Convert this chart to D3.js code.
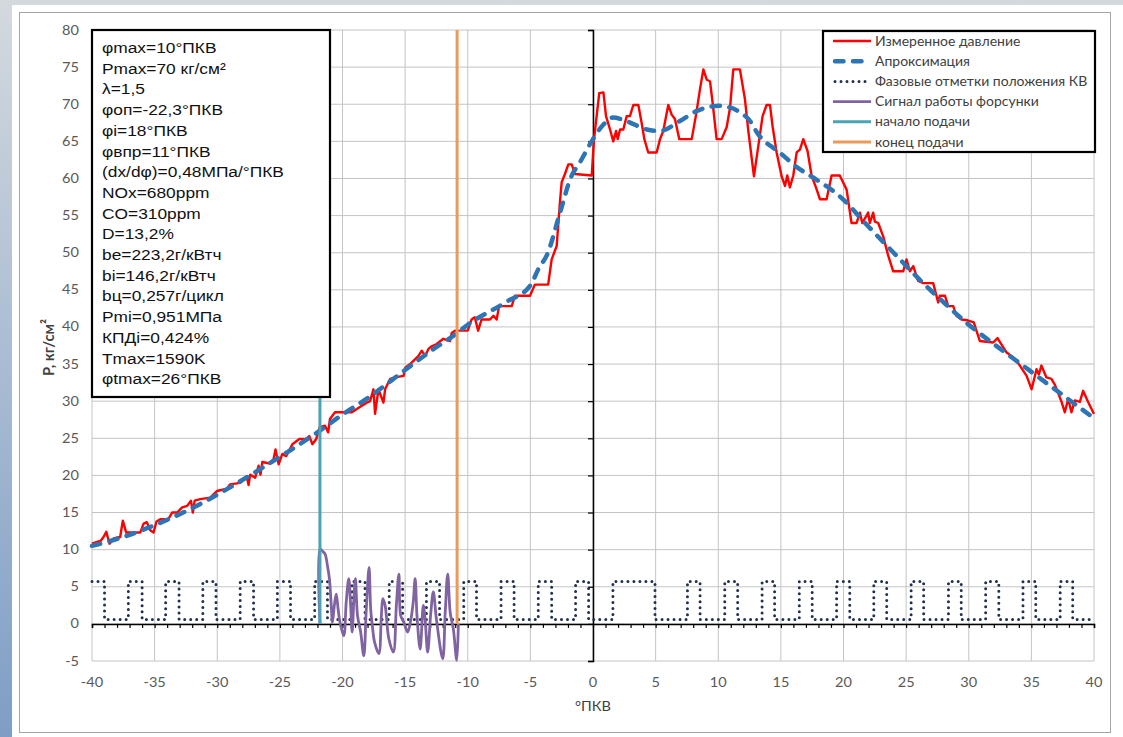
<!DOCTYPE html>
<html>
<head>
<meta charset="utf-8">
<script src="https://cdn.jsdelivr.net/npm/d3@7"></script>
<style>
  body { margin: 0; background: #ffffff; }
  svg { display: block; }
</style>
</head>
<body>
<script>
// values
const xTicks = [-40, -35, -30, -25, -20, -15, -10, -5, 0, 5, 10, 15, 20, 25, 30, 35, 40];
const yTicks = [-5, 0, 5, 10, 15, 20, 25, 30, 35, 40, 45, 50, 55, 60, 65, 70, 75, 80];

// measured pressure [angle, kg/cm2]
const measured = [
  [-40.0, 10.8], [-39.3, 11.2], [-39.08, 11.7], [-38.86, 12.4], [-38.6, 10.8], [-38.28, 11.5],
  [-37.75, 11.7], [-37.54, 13.9], [-37.27, 12.3], [-36.15, 12.3], [-35.88, 13.5], [-35.62, 13.7],
  [-35.35, 12.6], [-35.09, 12.3], [-34.85, 13.8], [-34.55, 14.1], [-33.9, 14.1], [-33.6, 15.0],
  [-33.2, 15.0], [-32.8, 15.7], [-32.4, 15.9], [-32.1, 16.6], [-31.95, 15.0], [-31.8, 16.6],
  [-31.36, 16.8], [-30.56, 17.0], [-30.03, 17.9], [-29.23, 18.2], [-28.97, 18.8], [-28.17, 19.0],
  [-27.9, 19.5], [-27.65, 19.9], [-27.5, 18.7], [-27.37, 20.1], [-26.97, 19.7], [-26.7, 21.3],
  [-26.55, 20.1], [-26.4, 21.8], [-25.8, 21.6], [-25.5, 22.2], [-25.35, 23.5], [-25.1, 21.5],
  [-24.8, 22.9], [-24.5, 22.6], [-24.0, 24.2], [-23.45, 24.9], [-22.9, 24.9], [-22.66, 25.3],
  [-22.4, 24.2], [-22.1, 24.9], [-21.82, 26.5], [-21.4, 26.7], [-21.14, 25.8], [-21.0, 27.6],
  [-20.6, 28.5], [-19.26, 28.5], [-18.46, 29.4], [-18.06, 29.8], [-17.8, 30.0], [-17.53, 31.6],
  [-17.4, 28.3], [-17.13, 31.6], [-16.73, 29.8], [-16.6, 31.6], [-16.2, 33.0], [-15.8, 33.2],
  [-15.13, 33.4], [-14.99, 34.5], [-14.6, 35.0], [-13.93, 36.1], [-13.67, 36.8], [-13.4, 36.1],
  [-13.15, 37.0], [-12.88, 37.4], [-12.48, 37.7], [-11.95, 38.4], [-11.42, 38.1], [-11.28, 39.2],
  [-11.02, 39.5], [-10.0, 39.5], [-9.7, 41.0], [-9.44, 41.3], [-9.17, 39.5], [-8.9, 41.0],
  [-8.22, 41.0], [-7.95, 41.5], [-7.69, 41.0], [-7.5, 42.8], [-6.49, 42.8], [-6.23, 44.2],
  [-5.03, 44.2], [-4.64, 45.7], [-3.58, 45.7], [-3.3, 49.1], [-2.9, 50.9], [-2.64, 56.8],
  [-2.5, 59.5], [-2.24, 60.6], [-1.97, 61.9], [-1.7, 61.9], [-1.44, 60.6], [-0.1, 60.4],
  [0.08, 65.3], [0.29, 68.4], [0.5, 71.5], [0.83, 71.6], [1.04, 68.4], [1.36, 66.6],
  [1.62, 65.0], [1.84, 66.4], [1.97, 65.3], [2.16, 66.6], [2.42, 66.6], [2.69, 68.4],
  [2.95, 68.4], [3.22, 69.9], [3.62, 69.9], [3.88, 67.5], [4.1, 65.3], [4.41, 63.5],
  [5.08, 63.5], [5.35, 65.3], [5.61, 66.4], [6.01, 69.9], [6.28, 68.6], [6.54, 68.0],
  [6.89, 65.3], [7.88, 65.3], [8.23, 68.6], [8.54, 72.0], [8.81, 74.7], [9.08, 73.3],
  [9.34, 73.1], [9.55, 70.2], [9.87, 65.3], [10.27, 65.3], [10.67, 66.9], [10.94, 69.5],
  [11.2, 74.7], [11.73, 74.7], [12.13, 70.7], [12.4, 66.4], [12.85, 60.3], [13.2, 64.4],
  [13.54, 68.4], [13.86, 69.9], [14.13, 69.9], [14.34, 67.0], [14.66, 63.5], [15.06, 60.3],
  [15.33, 59.0], [15.51, 60.4], [15.72, 58.8], [15.99, 60.4], [16.26, 63.5], [16.52, 63.9],
  [16.79, 65.3], [17.13, 63.7], [17.45, 60.4], [17.8, 58.8], [18.12, 57.2], [18.65, 57.2],
  [19.05, 60.4], [19.7, 60.4], [20.25, 58.5], [20.64, 54.0], [21.04, 54.0], [21.31, 55.4],
  [21.5, 54.0], [21.97, 55.4], [22.1, 54.0], [22.37, 55.4], [22.5, 54.2], [22.77, 54.0],
  [23.17, 52.2], [23.57, 49.6], [23.97, 47.5], [24.77, 47.5], [25.03, 49.1], [25.3, 47.5],
  [25.57, 48.2], [25.96, 46.2], [26.36, 45.9], [27.16, 45.9], [27.56, 43.3], [27.69, 44.2],
  [28.1, 44.2], [28.36, 42.8], [28.76, 42.8], [29.02, 41.5], [29.42, 41.0], [29.9, 40.9],
  [30.4, 40.6], [30.89, 38.1], [31.95, 37.9], [32.3, 38.5], [32.48, 38.0], [33.0, 36.6],
  [33.55, 35.9], [34.0, 35.0], [34.62, 33.4], [35.02, 31.6], [35.41, 34.3], [35.6, 33.6],
  [35.8, 34.8], [36.2, 33.2], [36.6, 33.0], [36.88, 32.2], [37.41, 29.9], [37.67, 28.5],
  [37.94, 30.3], [38.2, 28.5], [38.47, 30.1], [38.87, 29.9], [39.13, 31.4], [39.53, 29.9],
  [39.93, 28.5], [40.0, 28.3]
];

// approximation curve
const approx = [
  [-40, 10.5], [-37, 12.0], [-35, 13.3], [-32, 15.6], [-30, 17.4], [-27, 20.4], [-25, 22.5],
  [-22, 25.8], [-20, 28.2], [-18, 30.4], [-15, 34.2], [-13, 36.7], [-11, 39.0], [-10, 40.3],
  [-7, 43.3], [-5, 45.6], [-4.3, 48.0], [-3.7, 49.6], [-2.6, 55.6], [-1.8, 60.0], [-1, 62.3],
  [0, 65.3], [0.8, 67.2], [1.6, 68.2], [2.7, 67.7], [4.3, 66.6], [5.35, 66.4], [6.9, 67.7],
  [8.3, 69.1], [10.1, 69.8], [12.3, 68.2], [13.3, 65.7], [14.9, 63.5], [16.3, 61.5],
  [17.6, 60.1], [19.7, 57.6], [22, 53.5], [24, 50.0], [26, 46.5], [28, 43.3], [30, 40.3],
  [32, 37.7], [34, 35.2], [36, 32.7], [38, 30.2], [40, 27.7]
];

// crank angle marks: [rise, fall] of each pulse
const phasePulses = [
  [-40.0, -39.0], [-37.1, -36.0], [-34.12, -33.05], [-31.15, -30.1], [-28.17, -27.1],
  [-25.2, -24.15], [-22.22, -21.2], [-19.24, -18.2], [-16.27, -15.2], [-13.3, -12.25],
  [-10.32, -9.3], [-7.34, -6.3], [-4.37, -3.3], [-1.39, -0.35], [1.59, 4.95],
  [7.54, 8.55], [10.52, 11.55], [13.5, 14.5], [16.47, 17.5], [19.45, 20.5], [22.42, 23.45],
  [25.4, 26.4], [28.38, 29.4], [31.35, 32.4], [34.33, 35.35], [37.3, 38.3]
];
const phaseHigh = 5.7;
const phaseLow = 0.6;

// injector signal
const injector = [
  [-21.8, 0], [-21.79, 10.1], [-21.6, 9.8], [-21.39, 9.4], [-21.2, 7.8], [-21.04, 6.0],
  [-20.9, 2.5], [-20.8, 0.2], [-20.65, 2.5], [-20.5, 4.0], [-20.35, 2.0], [-20.2, 0.2],
  [-19.9, -1.6], [-19.7, 3.0], [-19.5, 6.1], [-19.35, 2.5], [-19.23, -1.1], [-19.1, 3.0],
  [-18.97, 6.1], [-18.8, 1.1], [-18.55, -1.1], [-18.3, -4.3], [-18.1, 2.0], [-17.88, 7.6],
  [-17.75, 2.0], [-17.6, -0.5], [-17.45, -2.4], [-17.1, -4.0], [-16.9, 1.0], [-16.78, 3.4],
  [-16.6, 2.5], [-16.3, -2.0], [-15.94, -3.8], [-15.7, 2.5], [-15.5, 6.7], [-15.35, 1.1],
  [-15.1, 0.2], [-14.8, -1.1], [-14.55, 0.5], [-14.35, 3.0], [-14.2, 6.1], [-14.05, 1.0],
  [-13.8, -3.4], [-13.55, 2.5], [-13.4, 0.5], [-13.2, -3.8], [-12.95, 1.5], [-12.75, 4.3],
  [-12.5, 0.6], [-12.0, -4.7], [-11.8, 1.5], [-11.6, 6.7], [-11.4, 1.5], [-11.15, -0.7],
  [-10.88, -4.9], [-10.75, 0]
];
const injStart = -21.8;
const injEnd = -10.85;

const infoLines = [
  'φmax=10°ПКВ', 'Pmax=70 кг/см²', 'λ=1,5', 'φoп=-22,3°ПКВ', 'φi=18°ПКВ', 'φвпр=11°ПКВ',
  '(dx/dφ)=0,48МПа/°ПКВ', 'NOx=680ppm', 'CO=310ppm', 'D=13,2%', 'be=223,2г/кВтч',
  'bi=146,2г/кВтч', 'bц=0,257г/цикл', 'Pmi=0,951МПа', 'КПДi=0,424%', 'Tmax=1590K', 'φtmax=26°ПКВ'
];
const legendLabels = [
  'Измеренное давление', 'Апроксимация', 'Фазовые отметки положения КВ',
  'Сигнал работы форсунки', 'начало подачи', 'конец подачи'
];

const width = 1123;
const height = 737;
const plot = { left: 92, right: 1094, top: 30, bottom: 661 };
const stretch = 1.12; // the picture is a little wider than tall

const colors = {
  red: '#ff0000',
  blue: '#2e75b6',
  phase: '#1f3050',
  purple: '#8064a2',
  teal: '#4aa3b5',
  orange: '#ec9a5a',
  grid: '#c4c4c4'
};

const svg = d3.select('body').append('svg')
              .attr('width', width)
              .attr('height', height);

const defs = svg.append('defs');
const bg = defs.append('linearGradient')
               .attr('id', 'bg')
               .attr('x1', 0).attr('y1', 0).attr('x2', 0).attr('y2', 1);
bg.append('stop').attr('offset', '0%').attr('stop-color', '#d4d9de');
bg.append('stop').attr('offset', '100%').attr('stop-color', '#7e9ec6');

svg.append('rect')
   .attr('width', width).attr('height', height)
   .attr('fill', 'url(#bg)');
svg.append('rect')
   .attr('x', 12).attr('y', 5)
   .attr('width', width - 12).attr('height', height - 5)
   .attr('fill', '#ffffff');
svg.append('rect')
   .attr('x', 19.5).attr('y', 12.5)
   .attr('width', 1091).attr('height', 720)
   .attr('fill', 'none')
   .attr('stroke', '#a6a6a6')
   .attr('stroke-width', 1);

const x = d3.scaleLinear().domain([-40, 40]).range([plot.left, plot.right]);
const y = d3.scaleLinear().domain([-5, 80]).range([plot.bottom, plot.top]);

// text helper: stretched a little sideways like the source
function label(g, tx, ty, txt, font, fill, anchor) {
  return g.append('text')
          .attr('transform', `translate(${tx},${ty}) scale(${stretch},1)`)
          .attr('text-anchor', anchor || 'start')
          .style('font', font)
          .attr('fill', fill)
          .text(txt);
}

// grid
svg.append('g')
   .selectAll('line')
   .data(xTicks)
   .enter()
   .append('line')
   .attr('x1', d => x(d)).attr('x2', d => x(d))
   .attr('y1', plot.top).attr('y2', plot.bottom)
   .attr('stroke', colors.grid)
   .attr('stroke-width', 1);
svg.append('g')
   .selectAll('line')
   .data(yTicks)
   .enter()
   .append('line')
   .attr('x1', plot.left).attr('x2', plot.right)
   .attr('y1', d => y(d)).attr('y2', d => y(d))
   .attr('stroke', colors.grid)
   .attr('stroke-width', 1);

// axes crossing at zero
const xAxis = svg.append('g')
                 .attr('transform', `translate(0,${y(0)})`)
                 .call(d3.axisBottom(x).tickValues(d3.range(-40, 41, 1)).tickSize(4).tickFormat(''));
const yAxis = svg.append('g')
                 .attr('transform', `translate(${x(0)},0)`)
                 .call(d3.axisLeft(y).tickValues(yTicks).tickSize(5).tickFormat(''));
[xAxis, yAxis].forEach(a => {
  a.select('.domain').attr('stroke', '#000').attr('stroke-width', 1.5);
  a.selectAll('.tick line').attr('stroke', '#000').attr('stroke-width', 1.2);
});

// tick labels
const tickFont = '13px Lato, sans-serif';
const tickLabels = svg.append('g');
xTicks.forEach(d => label(tickLabels, x(d), plot.bottom + 26, d, tickFont, '#595959', 'middle'));
yTicks.forEach(d => label(tickLabels, 79, y(d) + 4.5, d, tickFont, '#595959', 'end'));

svg.append('text')
   .attr('transform', `translate(54,${(plot.top + plot.bottom) / 2 + 2}) rotate(-90) scale(1.05,${stretch})`)
   .attr('text-anchor', 'middle')
   .style('font', 'bold 14px Lato, sans-serif')
   .attr('fill', '#404040')
   .text('P, кг/см²');
label(svg, x(0), 711, '°ПКВ', '13px Lato, sans-serif', '#404040', 'middle');

// series
const line = d3.line().x(d => x(d[0])).y(d => y(d[1]));

const phasePoints = [];
phasePulses.forEach(([on, off], i) => {
  if (i > 0) phasePoints.push([on, phaseLow]);
  phasePoints.push([on, phaseHigh], [off, phaseHigh], [off, phaseLow]);
});
phasePoints.push([40, phaseLow]);

svg.append('path')
   .attr('d', line(phasePoints))
   .attr('fill', 'none')
   .attr('stroke', colors.phase)
   .attr('stroke-width', 3)
   .attr('stroke-linecap', 'round')
   .attr('stroke-dasharray', '0 6');

svg.append('path')
   .attr('d', line(measured))
   .attr('fill', 'none')
   .attr('stroke', colors.red)
   .attr('stroke-width', 2.4)
   .attr('stroke-linejoin', 'round');

svg.append('path')
   .attr('d', d3.line().x(d => x(d[0])).y(d => y(d[1])).curve(d3.curveMonotoneX)(approx))
   .attr('fill', 'none')
   .attr('stroke', colors.blue)
   .attr('stroke-width', 4.5)
   .attr('stroke-linecap', 'round')
   .attr('stroke-dasharray', '8.5 9.5');

svg.append('path')
   .attr('d', d3.line().x(d => x(d[0])).y(d => y(d[1])).curve(d3.curveCatmullRom.alpha(0.5))(injector))
   .attr('fill', 'none')
   .attr('stroke', colors.purple)
   .attr('stroke-width', 2.8);

[[injStart, colors.teal], [injEnd, colors.orange]].forEach(([a, c]) => {
  svg.append('line')
     .attr('x1', x(a)).attr('x2', x(a))
     .attr('y1', y(0)).attr('y2', y(80))
     .attr('stroke', c)
     .attr('stroke-width', 3);
});

// info box
const info = svg.append('g');
info.append('rect')
    .attr('x', 92).attr('y', 30)
    .attr('width', 238).attr('height', 367)
    .attr('fill', '#ffffff')
    .attr('stroke', '#000')
    .attr('stroke-width', 2.2);
infoLines.forEach((d, i) => {
  label(info, 102, 53 + i * 20.7, d, '15.5px "Liberation Sans", Arial, sans-serif', '#111');
});

// legend
const legend = svg.append('g');
legend.append('rect')
      .attr('x', 823).attr('y', 31)
      .attr('width', 272).attr('height', 121)
      .attr('fill', '#ffffff')
      .attr('stroke', '#000')
      .attr('stroke-width', 2.2);
const legendStyles = [
  { stroke: colors.red, width: 2.4, dash: null, cap: 'butt' },
  { stroke: colors.blue, width: 4.5, dash: '8.5 9.5', cap: 'round' },
  { stroke: colors.phase, width: 3, dash: '0 6', cap: 'round' },
  { stroke: colors.purple, width: 2.8, dash: null, cap: 'butt' },
  { stroke: colors.teal, width: 3, dash: null, cap: 'butt' },
  { stroke: colors.orange, width: 3, dash: null, cap: 'butt' }
];
legendLabels.forEach((d, i) => {
  const st = legendStyles[i];
  const ry = 41 + i * 20.2;
  legend.append('line')
        .attr('x1', st.cap === 'round' ? 835 : 833).attr('x2', 871)
        .attr('y1', ry).attr('y2', ry)
        .attr('stroke', st.stroke)
        .attr('stroke-width', st.width)
        .attr('stroke-linecap', st.cap)
        .attr('stroke-dasharray', st.dash);
  label(legend, 875, ry + 4.5, d, '12.5px Lato, sans-serif', '#404040');
});
</script>
</body>
</html>
